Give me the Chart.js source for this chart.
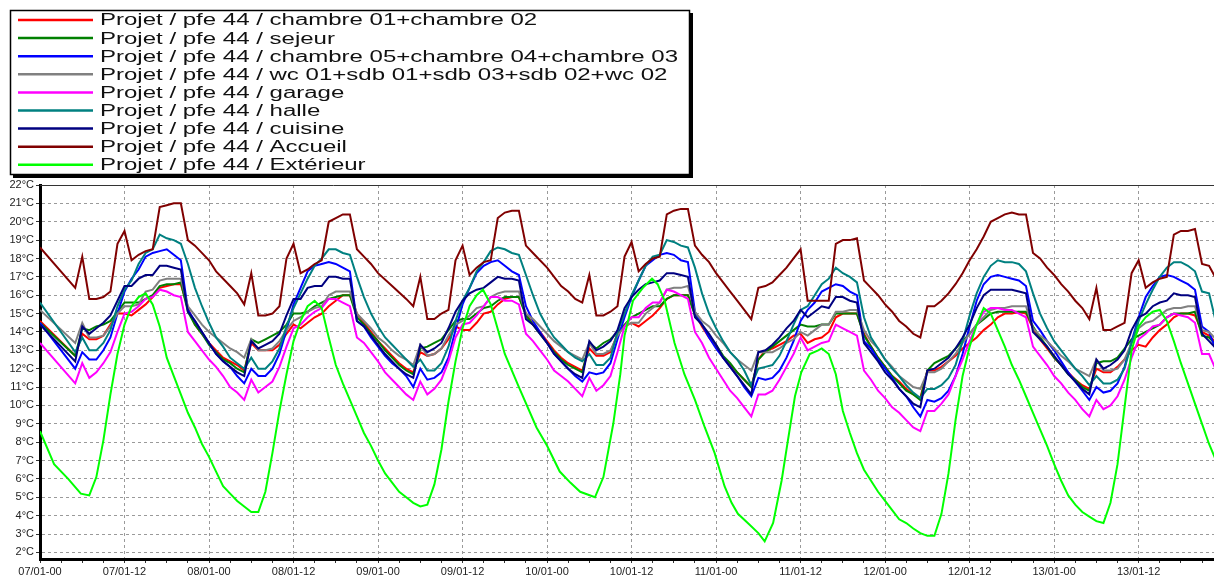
<!DOCTYPE html>
<html lang="fr">
<head>
<meta charset="UTF-8">
<title>pfe 44 - températures</title>
<script src="https://cdn.jsdelivr.net/npm/chart.js@4.4.1/dist/chart.umd.js"></script>
<style>
  html, body { margin: 0; padding: 0; background: #fff; }
  #wrap { width: 1214px; height: 579px; }
</style>
</head>
<body>
<div id="wrap"><canvas id="chart" width="1214" height="579"></canvas></div>
<script>
// x = hours since 07/01 00h, y = °C
const timeLabels = ['07/01-00', '07/01-12', '08/01-00', '08/01-12', '09/01-00', '09/01-12', '10/01-00',
  '10/01-12', '11/01-00', '11/01-12', '12/01-00', '12/01-12', '13/01-00', '13/01-12'];
const tempTicks = [2, 3, 4, 5, 6, 7, 8, 9, 10, 11, 12, 13, 14, 15, 16, 17, 18, 19, 20, 21, 22];

const seriesNames = [
  'Projet / pfe 44 / chambre 01+chambre 02',
  'Projet / pfe 44 / sejeur',
  'Projet / pfe 44 / chambre 05+chambre 04+chambre 03',
  'Projet / pfe 44 / wc 01+sdb 01+sdb 03+sdb 02+wc 02',
  'Projet / pfe 44 / garage',
  'Projet / pfe 44 / halle',
  'Projet / pfe 44 / cuisine',
  'Projet / pfe 44 / Accueil',
  'Projet / pfe 44 / Extérieur'
];
const seriesColors = ['#ff0000', '#008000', '#0000ff', '#808080', '#ff00ff', '#008080', '#000080', '#800000', '#00ff00'];

const chambres12 = [[0,14.6],[5,12.7],[6,13.9],[7,13.6],[8,13.6],[9,13.8],[10,14.4],[11,15.0],[12,15.0],[13,14.9],[14,15.2],[15,15.5],[16,15.9],[17,16.4],[18,16.5],[19,16.6],[20,16.6],[21,15.3],[22,14.4],[23,13.9],[24,13.4],[25,13.0],[26,12.6],[27,12.4],[28,12.2],[29,11.9],[30,13.4],[31,13.0],[32,13.0],[33,13.0],[34,13.3],[35,13.9],[36,14.4],[37,14.2],[38,14.5],[39,14.8],[40,15.0],[41,15.4],[42,15.7],[43,16.0],[44,16.0],[45,15.0],[46,14.5],[47,14.0],[48,13.5],[49,13.1],[50,12.7],[51,12.3],[52,12.0],[53,11.8],[54,12.9],[55,12.7],[56,12.8],[57,13.1],[58,13.6],[59,14.3],[60,14.1],[61,14.1],[62,14.5],[63,15.0],[64,15.1],[65,15.5],[66,15.8],[67,15.9],[68,15.9],[69,15.0],[70,14.4],[71,14.0],[72,13.5],[73,13.0],[74,12.6],[75,12.3],[76,12.1],[77,11.9],[78,13.1],[79,12.7],[80,12.7],[81,12.9],[82,13.9],[83,14.3],[84,14.5],[85,14.3],[86,14.6],[87,14.9],[88,15.3],[89,15.8],[90,16.0],[91,16.0],[92,16.0],[93,15.0],[94,14.3],[95,13.7],[96,13.2],[97,12.6],[98,12.2],[99,11.8],[100,11.4],[101,11.0],[102,12.5],[103,13.0],[104,13.1],[105,13.3],[106,13.5],[107,13.8],[108,13.9],[109,13.4],[110,13.6],[111,13.7],[112,14.0],[113,14.8],[114,15.0],[115,15.0],[116,15.0],[117,13.9],[118,13.2],[119,12.6],[120,12.1],[121,11.6],[122,11.3],[123,10.9],[124,10.6],[125,10.4],[126,11.9],[127,11.9],[128,12.1],[129,12.4],[130,12.7],[131,13.1],[132,13.4],[133,13.7],[134,14.1],[135,14.4],[136,14.8],[137,15.0],[138,15.0],[139,15.1],[140,15.0],[141,14.2],[142,13.6],[143,13.1],[144,12.6],[145,12.2],[146,11.8],[147,11.4],[148,11.1],[149,10.9],[150,12.0],[151,11.8],[152,11.8],[153,12.1],[154,12.5],[155,13.0],[156,13.3],[157,13.2],[158,13.7],[159,14.1],[160,14.4],[161,14.8],[162,15.0],[163,15.0],[164,14.9],[165,14.0],[166,13.8],[167,13.4]];

const sejeur = [[0,14.5],[5,12.7],[6,14.2],[7,14.1],[8,14.3],[9,14.4],[10,14.6],[11,15.1],[12,15.6],[13,15.6],[14,15.6],[15,15.8],[16,16.0],[17,16.5],[18,16.6],[19,16.6],[20,16.7],[21,15.1],[22,14.4],[23,13.9],[24,13.3],[25,12.9],[26,12.5],[27,12.3],[28,12.0],[29,11.8],[30,13.6],[31,13.4],[32,13.6],[33,13.8],[34,14.0],[35,14.4],[36,15.0],[37,15.0],[38,15.1],[39,15.4],[40,15.6],[41,15.8],[42,15.9],[43,16.0],[44,16.0],[45,14.8],[46,14.4],[47,13.9],[48,13.5],[49,13.0],[50,12.6],[51,12.2],[52,11.9],[53,11.7],[54,13.1],[55,13.2],[56,13.4],[57,13.6],[58,14.1],[59,14.6],[60,14.7],[61,14.7],[62,15.0],[63,15.3],[64,15.4],[65,15.7],[66,15.9],[67,15.9],[68,15.9],[69,14.9],[70,14.4],[71,13.9],[72,13.4],[73,12.9],[74,12.5],[75,12.2],[76,12.0],[77,11.8],[78,13.4],[79,13.1],[80,13.4],[81,13.6],[82,14.0],[83,14.4],[84,14.8],[85,15.0],[86,15.2],[87,15.4],[88,15.4],[89,15.8],[90,16.0],[91,16.0],[92,16.0],[93,14.9],[94,14.4],[95,13.8],[96,13.3],[97,12.7],[98,12.3],[99,11.8],[100,11.4],[101,11.0],[102,12.5],[103,12.9],[104,13.2],[105,13.5],[106,13.8],[107,14.1],[108,14.4],[109,14.3],[110,14.3],[111,14.4],[112,14.4],[113,15.0],[114,15.0],[115,15.0],[116,15.0],[117,13.8],[118,13.2],[119,12.6],[120,12.1],[121,11.6],[122,11.2],[123,10.8],[124,10.6],[125,10.3],[126,11.9],[127,12.3],[128,12.5],[129,12.7],[130,13.1],[131,13.5],[132,13.9],[133,14.4],[134,14.7],[135,15.0],[136,15.1],[137,15.1],[138,15.1],[139,15.1],[140,15.1],[141,14.3],[142,13.7],[143,13.2],[144,12.6],[145,12.2],[146,11.7],[147,11.4],[148,11.0],[149,10.8],[150,12.3],[151,12.4],[152,12.4],[153,12.6],[154,13.1],[155,13.6],[156,13.8],[157,14.0],[158,14.2],[159,14.4],[160,14.8],[161,15.0],[162,15.0],[163,15.0],[164,15.1],[165,13.8],[166,13.7],[167,13.3]];

const chambres345 = [[0,14.5],[5,12.0],[6,12.9],[7,12.5],[8,12.5],[9,13.0],[10,13.7],[11,15.0],[12,16.2],[13,16.9],[14,17.4],[15,18.1],[16,18.3],[17,18.4],[18,18.5],[19,18.2],[20,17.9],[21,15.2],[22,14.6],[23,14.0],[24,13.4],[25,12.8],[26,12.4],[27,12.1],[28,11.6],[29,11.2],[30,12.0],[31,11.6],[32,11.6],[33,12.0],[34,12.8],[35,14.1],[36,15.5],[37,16.4],[38,17.3],[39,17.6],[40,17.7],[41,17.8],[42,17.7],[43,17.5],[44,17.3],[45,14.6],[46,14.3],[47,13.7],[48,13.2],[49,12.7],[50,12.3],[51,12.0],[52,11.6],[53,11.0],[54,12.0],[55,11.4],[56,11.5],[57,11.8],[58,12.6],[59,14.1],[60,15.5],[61,16.4],[62,17.2],[63,17.6],[64,17.8],[65,17.9],[66,17.6],[67,17.3],[68,17.1],[69,15.4],[70,14.6],[71,14.0],[72,13.4],[73,12.8],[74,12.4],[75,12.0],[76,11.6],[77,11.3],[78,11.8],[79,11.7],[80,11.8],[81,12.3],[82,13.6],[83,14.8],[84,15.9],[85,16.8],[86,17.6],[87,17.9],[88,18.2],[89,18.3],[90,18.2],[91,17.9],[92,17.8],[93,15.1],[94,14.4],[95,13.7],[96,13.1],[97,12.6],[98,12.1],[99,11.6],[100,11.0],[101,10.5],[102,11.5],[103,11.4],[104,11.5],[105,11.9],[106,12.6],[107,13.5],[108,14.6],[109,15.2],[110,15.6],[111,16.2],[112,16.4],[113,16.6],[114,16.5],[115,16.2],[116,16.0],[117,13.5],[118,13.1],[119,12.5],[120,12.0],[121,11.5],[122,10.9],[123,10.5],[124,9.9],[125,9.4],[126,10.3],[127,10.2],[128,10.4],[129,10.8],[130,11.6],[131,12.8],[132,14.3],[133,15.7],[134,16.6],[135,17.0],[136,17.1],[137,17.0],[138,16.9],[139,16.8],[140,16.5],[141,14.6],[142,14.1],[143,13.5],[144,13.0],[145,12.4],[146,11.8],[147,11.3],[148,10.8],[149,10.3],[150,11.0],[151,10.7],[152,10.8],[153,11.2],[154,12.1],[155,13.5],[156,14.8],[157,15.9],[158,16.5],[159,17.0],[160,17.1],[161,17.0],[162,16.8],[163,16.6],[164,16.3],[165,14.3],[166,14.0],[167,13.0]];

const sanitaires = [[0,15.2],[5,13.4],[6,14.5],[7,13.7],[8,13.7],[9,13.8],[10,14.3],[11,15.0],[12,15.4],[13,15.4],[14,15.5],[15,16.2],[16,16.3],[17,16.8],[18,16.9],[19,16.9],[20,16.9],[21,15.4],[22,14.9],[23,14.4],[24,14.0],[25,13.7],[26,13.4],[27,13.1],[28,12.9],[29,12.6],[30,13.6],[31,13.0],[32,13.0],[33,13.1],[34,13.5],[35,14.1],[36,14.6],[37,14.8],[38,15.1],[39,15.3],[40,15.4],[41,16.0],[42,16.2],[43,16.2],[44,16.2],[45,15.0],[46,14.6],[47,14.2],[48,13.7],[49,13.4],[50,13.0],[51,12.7],[52,12.5],[53,12.2],[54,13.3],[55,12.7],[56,12.8],[57,13.1],[58,13.8],[59,14.4],[60,14.6],[61,14.9],[62,15.3],[63,15.4],[64,15.9],[65,16.1],[66,16.2],[67,16.2],[68,16.2],[69,15.0],[70,14.7],[71,14.3],[72,13.9],[73,13.5],[74,13.2],[75,12.9],[76,12.7],[77,12.5],[78,13.4],[79,12.8],[80,12.8],[81,13.0],[82,13.8],[83,14.3],[84,14.5],[85,14.5],[86,15.0],[87,15.3],[88,15.6],[89,16.3],[90,16.4],[91,16.4],[92,16.5],[93,15.1],[94,14.6],[95,14.3],[96,13.8],[97,13.4],[98,12.9],[99,12.5],[100,12.2],[101,11.9],[102,12.9],[103,12.9],[104,12.9],[105,13.1],[106,13.4],[107,13.6],[108,14.0],[109,13.8],[110,14.1],[111,14.4],[112,14.4],[113,15.1],[114,15.1],[115,15.2],[116,15.2],[117,14.1],[118,13.5],[119,13.1],[120,12.5],[121,12.1],[122,11.6],[123,11.3],[124,11.0],[125,10.9],[126,11.8],[127,11.8],[128,12.0],[129,12.4],[130,12.8],[131,13.4],[132,13.9],[133,14.4],[134,14.8],[135,15.2],[136,15.3],[137,15.3],[138,15.4],[139,15.4],[140,15.4],[141,14.2],[142,13.8],[143,13.5],[144,13.1],[145,12.7],[146,12.4],[147,12.0],[148,11.8],[149,11.6],[150,12.5],[151,11.9],[152,11.9],[153,12.0],[154,12.5],[155,13.4],[156,14.2],[157,14.5],[158,14.6],[159,14.9],[160,15.2],[161,15.3],[162,15.3],[163,15.4],[164,15.4],[165,14.1],[166,14.0],[167,13.6]];

const garage = [[0,13.4],[5,11.2],[6,12.3],[7,11.5],[8,11.8],[9,12.3],[10,12.9],[11,14.0],[12,15.0],[13,15.1],[14,15.4],[15,15.8],[16,15.9],[17,16.3],[18,16.2],[19,16.0],[20,15.9],[21,14.0],[22,13.5],[23,13.0],[24,12.5],[25,12.1],[26,11.6],[27,11.0],[28,10.7],[29,10.3],[30,11.4],[31,10.7],[32,11.0],[33,11.3],[34,12.1],[35,13.2],[36,14.2],[37,14.4],[38,14.8],[39,15.1],[40,15.3],[41,15.8],[42,15.8],[43,15.6],[44,15.4],[45,13.7],[46,13.4],[47,12.9],[48,12.4],[49,11.8],[50,11.4],[51,11.0],[52,10.6],[53,10.3],[54,11.3],[55,10.6],[56,10.9],[57,11.4],[58,12.4],[59,13.7],[60,14.4],[61,14.5],[62,14.9],[63,15.4],[64,15.9],[65,15.9],[66,15.7],[67,15.7],[68,15.5],[69,13.9],[70,13.5],[71,13.0],[72,12.5],[73,11.9],[74,11.6],[75,11.3],[76,10.9],[77,10.5],[78,11.5],[79,10.8],[80,11.1],[81,11.6],[82,12.9],[83,14.3],[84,14.8],[85,14.8],[86,15.3],[87,15.6],[88,15.6],[89,16.3],[90,16.2],[91,16.0],[92,15.8],[93,14.0],[94,13.4],[95,12.6],[96,12.0],[97,11.4],[98,10.8],[99,10.4],[100,9.9],[101,9.4],[102,10.6],[103,10.6],[104,10.8],[105,11.4],[106,12.1],[107,12.8],[108,13.7],[109,13.0],[110,13.2],[111,13.4],[112,13.5],[113,14.4],[114,14.2],[115,14.0],[116,13.8],[117,11.9],[118,11.4],[119,10.8],[120,10.4],[121,9.9],[122,9.6],[123,9.2],[124,8.8],[125,8.6],[126,9.7],[127,9.7],[128,10.1],[129,10.6],[130,11.6],[131,12.5],[132,13.5],[133,14.4],[134,15.1],[135,15.3],[136,15.3],[137,15.2],[138,15.2],[139,15.0],[140,14.8],[141,13.2],[142,12.7],[143,12.2],[144,11.6],[145,11.2],[146,10.7],[147,10.3],[148,9.8],[149,9.4],[150,10.3],[151,9.8],[152,10.0],[153,10.5],[154,11.4],[155,12.6],[156,13.6],[157,13.9],[158,14.3],[159,14.4],[160,14.8],[161,15.0],[162,14.9],[163,14.8],[164,14.5],[165,12.8],[166,12.8],[167,11.9]];

const halle = [[0,15.6],[5,12.9],[6,13.7],[7,13.0],[8,13.0],[9,13.4],[10,14.1],[11,15.4],[12,16.3],[13,16.8],[14,17.7],[15,18.3],[16,18.5],[17,19.3],[18,19.1],[19,19.0],[20,18.8],[21,17.7],[22,16.4],[23,15.4],[24,14.5],[25,13.7],[26,13.2],[27,12.6],[28,12.3],[29,12.0],[30,12.6],[31,12.0],[32,12.0],[33,12.4],[34,13.1],[35,14.3],[36,15.3],[37,16.1],[38,16.9],[39,17.6],[40,18.0],[41,18.5],[42,18.5],[43,18.3],[44,18.2],[45,17.0],[46,15.9],[47,15.0],[48,14.3],[49,13.7],[50,13.3],[51,12.9],[52,12.5],[53,12.1],[54,12.5],[55,11.9],[56,11.9],[57,12.3],[58,13.2],[59,14.6],[60,15.7],[61,16.4],[62,17.3],[63,17.8],[64,18.4],[65,18.6],[66,18.5],[67,18.3],[68,18.2],[69,17.1],[70,16.0],[71,15.0],[72,14.3],[73,13.7],[74,13.3],[75,12.9],[76,12.6],[77,12.4],[78,12.8],[79,12.2],[80,12.2],[81,12.6],[82,14.0],[83,15.0],[84,16.0],[85,16.8],[86,17.6],[87,18.1],[88,18.2],[89,19.0],[90,18.9],[91,18.7],[92,18.6],[93,17.5],[94,16.1],[95,15.0],[96,14.2],[97,13.5],[98,12.9],[99,12.5],[100,11.9],[101,11.1],[102,12.0],[103,12.1],[104,12.2],[105,12.7],[106,13.5],[107,14.4],[108,15.2],[109,15.4],[110,16.0],[111,16.6],[112,16.9],[113,17.5],[114,17.2],[115,17.0],[116,16.7],[117,14.8],[118,13.7],[119,13.1],[120,12.5],[121,12.0],[122,11.6],[123,11.1],[124,10.7],[125,10.4],[126,10.9],[127,10.9],[128,11.1],[129,11.5],[130,12.2],[131,13.5],[132,14.9],[133,16.1],[134,17.0],[135,17.6],[136,17.9],[137,17.8],[138,17.8],[139,17.7],[140,17.3],[141,16.1],[142,15.0],[143,14.2],[144,13.5],[145,13.0],[146,12.5],[147,12.0],[148,11.6],[149,11.1],[150,11.6],[151,11.2],[152,11.2],[153,11.4],[154,12.0],[155,13.4],[156,14.6],[157,15.5],[158,16.3],[159,17.0],[160,17.5],[161,17.8],[162,17.8],[163,17.6],[164,17.3],[165,16.2],[166,16.1],[167,14.5]];

const cuisine = [[0,14.4],[5,12.4],[6,14.3],[7,13.9],[8,14.2],[9,14.5],[10,14.9],[11,15.7],[12,16.5],[13,16.5],[14,16.9],[15,17.1],[16,17.1],[17,17.6],[18,17.6],[19,17.5],[20,17.4],[21,15.1],[22,14.6],[23,14.0],[24,13.4],[25,12.8],[26,12.4],[27,12.1],[28,11.8],[29,11.6],[30,13.5],[31,13.1],[32,13.3],[33,13.5],[34,13.9],[35,14.9],[36,15.8],[37,15.8],[38,16.4],[39,16.5],[40,16.5],[41,17.0],[42,17.0],[43,16.9],[44,16.9],[45,14.6],[46,14.3],[47,13.8],[48,13.3],[49,12.8],[50,12.4],[51,12.0],[52,11.7],[53,11.5],[54,13.3],[55,12.9],[56,13.1],[57,13.4],[58,14.2],[59,15.1],[60,15.7],[61,16.1],[62,16.3],[63,16.4],[64,16.7],[65,17.0],[66,16.9],[67,16.9],[68,16.8],[69,14.7],[70,14.4],[71,13.9],[72,13.4],[73,12.8],[74,12.4],[75,12.0],[76,11.7],[77,11.5],[78,13.5],[79,13.0],[80,13.2],[81,13.5],[82,14.1],[83,15.3],[84,15.9],[85,16.3],[86,16.6],[87,16.7],[88,16.8],[89,17.2],[90,17.2],[91,17.1],[92,17.0],[93,14.8],[94,14.4],[95,13.9],[96,13.3],[97,12.6],[98,12.1],[99,11.6],[100,11.1],[101,10.6],[102,12.9],[103,13.0],[104,13.3],[105,13.7],[106,14.2],[107,14.6],[108,15.2],[109,14.8],[110,15.1],[111,15.4],[112,15.3],[113,15.9],[114,15.9],[115,15.7],[116,15.6],[117,13.4],[118,12.9],[119,12.4],[120,11.8],[121,11.4],[122,10.9],[123,10.5],[124,10.1],[125,9.9],[126,11.9],[127,12.0],[128,12.3],[129,12.6],[130,13.1],[131,13.7],[132,14.4],[133,15.3],[134,16.0],[135,16.3],[136,16.3],[137,16.3],[138,16.3],[139,16.2],[140,16.1],[141,14.0],[142,13.6],[143,13.2],[144,12.7],[145,12.2],[146,11.7],[147,11.3],[148,10.9],[149,10.6],[150,12.5],[151,12.0],[152,12.2],[153,12.5],[154,13.0],[155,14.1],[156,14.8],[157,15.0],[158,15.4],[159,15.6],[160,15.7],[161,16.1],[162,16.0],[163,16.0],[164,15.9],[165,13.9],[166,13.5],[167,13.1]];

const accueil = [[0,18.6],[5,16.4],[6,18.1],[7,15.8],[8,15.8],[9,15.9],[10,16.2],[11,18.8],[12,19.5],[13,17.9],[14,18.2],[15,18.4],[16,18.5],[17,20.8],[18,20.9],[19,21.0],[20,21.0],[21,19.0],[22,18.7],[24,17.9],[25,17.3],[27,16.5],[28,16.1],[29,15.5],[30,17.2],[31,14.9],[32,14.9],[33,15.0],[34,15.4],[35,18.0],[36,18.8],[37,17.2],[38,17.4],[39,17.7],[40,17.9],[41,20.0],[42,20.2],[43,20.4],[44,20.4],[45,18.5],[46,18.1],[47,17.7],[48,17.2],[50,16.5],[52,15.8],[53,15.4],[54,17.0],[55,14.7],[56,14.7],[57,15.0],[58,15.2],[59,17.9],[60,18.7],[61,17.1],[62,17.5],[63,17.8],[64,17.9],[65,20.2],[66,20.5],[67,20.6],[68,20.6],[69,18.7],[70,18.3],[72,17.5],[74,16.5],[75,16.2],[76,15.8],[77,15.6],[78,17.1],[79,14.9],[80,14.9],[81,15.1],[82,15.4],[83,18.1],[84,18.9],[85,17.3],[86,17.7],[87,18.0],[88,18.1],[89,20.4],[90,20.6],[91,20.7],[92,20.7],[93,18.7],[94,18.2],[95,17.8],[96,17.2],[97,16.7],[98,16.2],[99,15.7],[100,15.2],[101,14.7],[102,16.4],[103,16.5],[104,16.7],[105,17.1],[106,17.5],[107,18.0],[108,18.5],[109,15.7],[110,15.7],[111,15.7],[112,15.7],[113,18.8],[114,19.0],[115,19.0],[116,19.1],[117,16.8],[118,16.4],[119,16.0],[120,15.5],[121,15.1],[122,14.6],[123,14.3],[124,13.9],[125,13.7],[126,15.4],[127,15.4],[128,15.7],[129,16.1],[130,16.6],[131,17.2],[132,17.9],[133,18.5],[134,19.2],[135,20.0],[136,20.2],[137,20.4],[138,20.5],[139,20.4],[140,20.4],[141,18.3],[142,18.0],[143,17.5],[144,17.1],[145,16.6],[146,16.2],[147,15.7],[148,15.3],[149,14.7],[150,16.4],[151,14.1],[152,14.1],[153,14.3],[154,14.5],[155,17.2],[156,17.9],[157,16.4],[158,16.7],[159,16.9],[160,17.0],[161,19.3],[162,19.5],[163,19.5],[164,19.6],[165,17.7],[166,17.6],[167,16.9]];

const exterieur = [[0,8.6],[2,6.8],[4,6.0],[5.8,5.2],[7,5.1],[8,6.1],[9,8.1],[10,10.6],[11,12.8],[12,14.4],[13,15.4],[14,15.9],[15,16.1],[16,15.5],[17,14.3],[18,12.6],[19,11.6],[20,10.6],[21,9.6],[22,8.8],[23,7.9],[24,7.2],[25,6.4],[26,5.6],[27,5.2],[28,4.8],[29,4.5],[30,4.2],[31,4.2],[32,5.3],[33,7.4],[34,9.7],[35,11.7],[36,13.5],[37,14.6],[38,15.4],[39,15.7],[40,15.3],[41,13.7],[42,12.2],[43,11.2],[44,10.3],[45,9.4],[46,8.5],[47,7.8],[48,7.0],[49,6.3],[50,5.8],[51,5.3],[52,5.0],[53,4.7],[54,4.5],[55,4.6],[56,5.7],[57,7.6],[58,10.2],[59,12.4],[60,14.2],[61,15.4],[62,16.0],[62.9,16.3],[64,15.5],[66,12.8],[68,11.0],[70.5,8.8],[72,7.8],[73.8,6.4],[75.3,5.8],[76.7,5.3],[78.8,5.0],[80,6.1],[81.4,9.0],[82.4,11.7],[83,13.8],[84.2,15.7],[85.6,16.4],[86.9,16.9],[87.7,16.6],[88.7,15.7],[90.1,13.4],[91.5,11.7],[93,10.3],[94.4,8.8],[95.8,7.4],[97.2,5.6],[98.2,4.7],[99.1,4.1],[100.5,3.6],[102,3.05],[102.9,2.6],[104.1,3.6],[105.3,5.9],[106.2,8.1],[107.2,10.5],[108.1,11.8],[109.3,12.8],[110.5,13.0],[111,13.1],[112,12.8],[113,11.7],[114,9.7],[115,8.5],[116,7.4],[117,6.5],[118,5.9],[119,5.3],[120,4.8],[121,4.3],[122,3.8],[123,3.6],[124,3.3],[125,3.05],[126,2.9],[127,2.9],[128,4.1],[129,6.3],[130,9.2],[131,11.6],[132,13.2],[133,14.4],[134,15.3],[135,15.0],[136,14.1],[137,13.2],[138,12.2],[139,11.4],[140,10.5],[141,9.6],[142,8.7],[143,7.8],[144,6.8],[145,5.9],[146,5.1],[147,4.6],[148,4.2],[149,3.95],[150,3.7],[151,3.6],[152,4.7],[153,6.8],[154,9.9],[155,13.0],[156,14.3],[157,14.8],[158,15.1],[159,15.2],[160,14.6],[161,13.5],[162,12.3],[163,11.2],[164,10.1],[165,9.0],[166,7.9],[167,7.0]];

const seriesData = [chambres12, sejeur, chambres345, sanitaires, garage, halle, cuisine, accueil, exterieur];

// frame top line + boxed legend like the original export
const frameAndLegend = {
  id: 'frameAndLegend',
  afterDraw(chart) {
    const ctx = chart.ctx;
    const area = chart.chartArea;
    ctx.save();
    ctx.strokeStyle = '#333';
    ctx.lineWidth = 1;
    ctx.beginPath();
    ctx.moveTo(area.left, area.top + 0.5);
    ctx.lineTo(area.right, area.top + 0.5);
    ctx.stroke();

    // legend box with shadow
    ctx.fillStyle = '#000';
    ctx.fillRect(13, 13, 680, 165);
    ctx.fillStyle = '#fff';
    ctx.fillRect(10, 10, 680, 165);
    ctx.strokeStyle = '#000';
    ctx.lineWidth = 1.5;
    ctx.strokeRect(10.5, 10.5, 679, 164);

    ctx.font = '16px "Liberation Sans", Arial, sans-serif';
    const widest = ctx.measureText(seriesNames[2]).width;
    const sx = 578 / widest;
    chart.data.datasets.forEach((ds, i) => {
      const y = 20 + i * 18.1;
      ctx.strokeStyle = ds.borderColor;
      ctx.lineWidth = 2.5;
      ctx.beginPath();
      ctx.moveTo(18, y);
      ctx.lineTo(93, y);
      ctx.stroke();
      ctx.save();
      ctx.translate(100, y);
      ctx.scale(sx, 1);
      ctx.fillStyle = '#111';
      ctx.textBaseline = 'middle';
      ctx.fillText(ds.label, 0, 1);
      ctx.restore();
    });
    ctx.restore();
  }
};

const ctx = document.getElementById('chart');
new Chart(ctx, {
  type: 'line',
  data: {
    datasets: seriesData.map((pts, i) => ({
      label: seriesNames[i],
      data: pts,
      borderColor: seriesColors[i],
      backgroundColor: seriesColors[i],
      borderWidth: 2,
      pointRadius: 0,
      tension: 0,
      fill: false,
      order: seriesData.length - i
    }))
  },
  options: {
    responsive: false,
    devicePixelRatio: 1,
    animation: false,
    layout: { padding: { top: 185, left: 0, right: 0, bottom: 0 } },
    plugins: { legend: { display: false }, tooltip: { enabled: false } },
    scales: {
      x: {
        type: 'linear',
        min: 0,
        max: 166.7,
        afterBuildTicks(scale) {
          const t = [];
          for (let h = 0; h <= 165; h += 3) t.push({ value: h });
          scale.ticks = t;
        },
        afterFit(scale) { scale.height = 20; },
        ticks: {
          autoSkip: false,
          maxRotation: 0,
          minRotation: 0,
          padding: 2,
          color: '#222',
          font: { family: '"Liberation Sans", Arial, sans-serif', size: 11 },
          callback: (v) => (v % 12 === 0 ? timeLabels[v / 12] : '')
        },
        grid: {
          color: (c) => (c.tick && c.tick.value % 12 === 0 ? '#9a9a9a' : 'rgba(0,0,0,0)'),
          tickColor: '#333',
          tickLength: 4,
          lineWidth: 1
        },
        border: { display: true, color: '#000', width: 3, dash: [3, 3] }
      },
      y: {
        min: 1.64,
        max: 22,
        afterBuildTicks(scale) { scale.ticks = tempTicks.map(v => ({ value: v })); },
        afterFit(scale) { scale.width = 40; },
        ticks: {
          padding: 2,
          color: '#222',
          font: { family: '"Liberation Sans", Arial, sans-serif', size: 11 },
          callback: (v) => v + '°C'
        },
        grid: { color: '#9a9a9a', tickColor: '#333', tickLength: 4, lineWidth: 1 },
        border: { display: true, color: '#000', width: 3, dash: [3, 3] }
      }
    }
  },
  plugins: [frameAndLegend]
});
</script>
</body>
</html>
